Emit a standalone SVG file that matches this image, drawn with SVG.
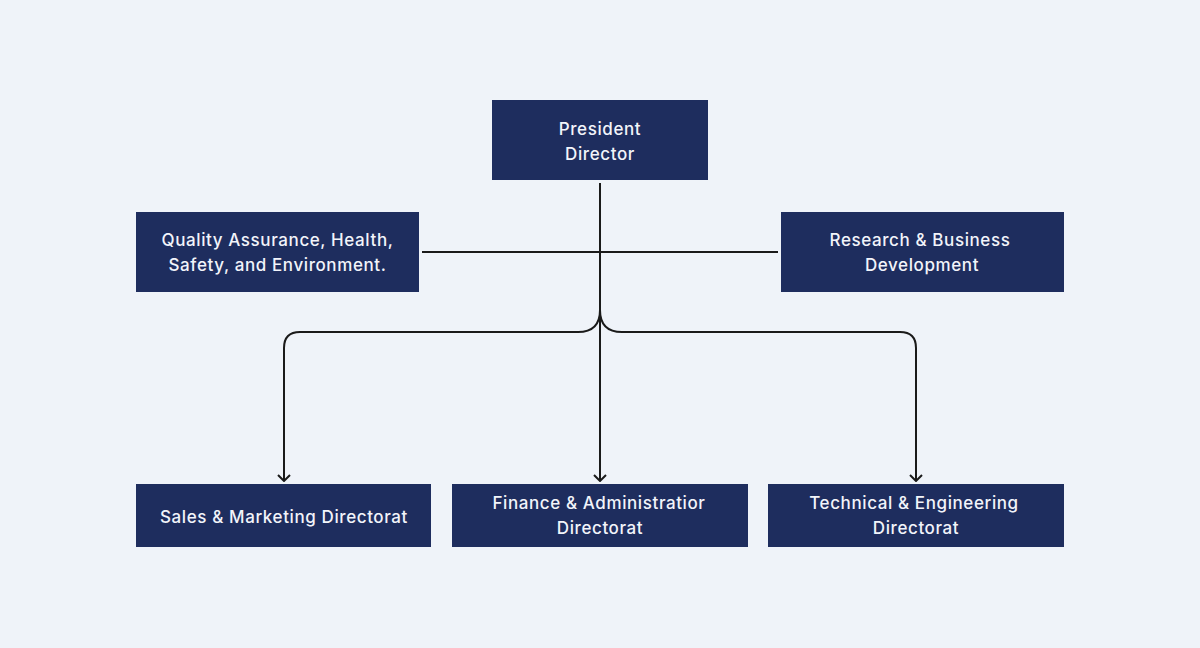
<svg xmlns="http://www.w3.org/2000/svg" width="1200" height="648" viewBox="0 0 1200 648">
<defs>
<style>
.box{fill:#1e2d5e}
.t{font-family:Inter,"Open Sans",sans-serif;font-size:17px;letter-spacing:0.6px;fill:#f2f4fa;text-anchor:middle;font-weight:500}
.c{fill:none;stroke:#1a1a1a;stroke-width:2}
</style>
<marker id="arr" viewBox="0 0 10 14" refX="9" refY="7" markerWidth="10" markerHeight="14" markerUnits="userSpaceOnUse" orient="auto">
<path d="M3,1 L9,7 L3,13" fill="none" stroke="#1a1a1a" stroke-width="2"/>
</marker>
</defs>
<rect width="1200" height="648" fill="#eff3f9"/>
<g id="connectors">
<path class="c" d="M600,183 V481" marker-end="url(#arr)"/>
<path class="c" d="M422,252 H778"/>
<path class="c" d="M600,310 Q600,332 578,332 H300 Q284,332 284,348 V481" marker-end="url(#arr)"/>
<path class="c" d="M600,310 Q600,332 622,332 H900 Q916,332 916,348 V481" marker-end="url(#arr)"/>
</g>
<g id="president">
<rect class="box" x="492" y="100" width="216" height="80"/>
<text class="t" x="600" y="135">President</text>
<text class="t" x="600" y="160">Director</text>
</g>
<g id="qa">
<rect class="box" x="136" y="212" width="283" height="80"/>
<text class="t" x="277.5" y="246">Quality Assurance, Health,</text>
<text class="t" x="277.5" y="271">Safety, and Environment.</text>
</g>
<g id="research">
<rect class="box" x="781" y="212" width="283" height="80"/>
<text class="t" x="920" y="246">Research &amp; Business</text>
<text class="t" x="922" y="271">Development</text>
</g>
<g id="sales">
<rect class="box" x="136" y="484" width="295" height="63"/>
<text class="t" x="284" y="523">Sales &amp; Marketing Directorat</text>
</g>
<g id="finance">
<rect class="box" x="452" y="484" width="296" height="63"/>
<text class="t" x="599" y="509">Finance &amp; Administratior</text>
<text class="t" x="600" y="534">Directorat</text>
</g>
<g id="technical">
<rect class="box" x="768" y="484" width="296" height="63"/>
<text class="t" x="914" y="509">Technical &amp; Engineering</text>
<text class="t" x="916" y="534">Directorat</text>
</g>
</svg>
